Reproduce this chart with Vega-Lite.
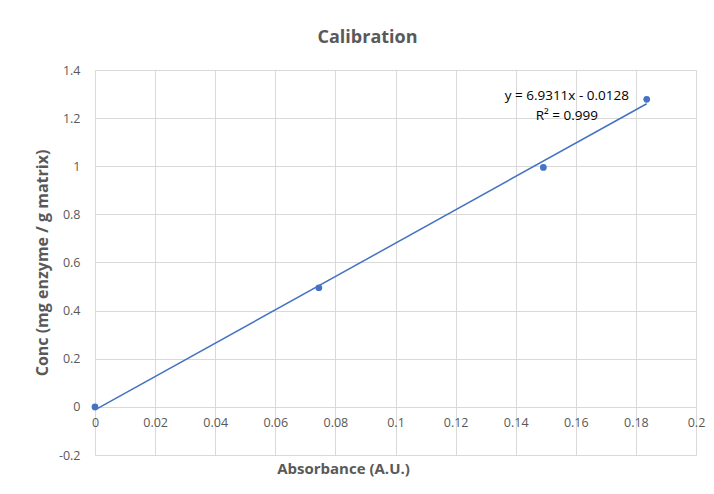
{
  "$schema": "https://vega.github.io/schema/vega-lite/v6.json",
  "width": 601,
  "height": 385,
  "autosize": {"type": "none"},
  "padding": {"left": 95, "top": 70, "right": 18, "bottom": 39},
  "background": "white",
  "config": {
    "font": "Open Sans",
    "view": {"stroke": null},
    "axis": {"labelColor": "#595959", "titleColor": "#595959", "labelFontSize": 12.5, "titleFontSize": 15, "titleFontWeight": "bold", "gridColor": "#d9d9d9", "gridWidth": 1, "ticks": false, "labelFont": "Open Sans", "titleFont": "Open Sans", "labelExpr": "'' + datum.value"}
  },
  "title": {"text": "Calibration", "fontSize": 18, "fontWeight": "bold", "color": "#595959", "font": "Open Sans", "anchor": "middle", "dx": -28, "offset": 17},
  "datasets": {
    "pts": [
      {"absorbance": 0, "conc": 0},
      {"absorbance": 0.0745, "conc": 0.495},
      {"absorbance": 0.1492, "conc": 0.995},
      {"absorbance": 0.1836, "conc": 1.278}
    ],
    "trend": [
      {"absorbance": 0, "conc": -0.0128},
      {"absorbance": 0.1836, "conc": 1.2598}
    ],
    "label": [
      {"absorbance": 0.157, "conc": 1.29, "text": "y = 6.9311x - 0.0128"},
      {"absorbance": 0.157, "conc": 1.207, "text": "R² = 0.999"}
    ]
  },
  "layer": [
    {
      "data": {"name": "trend"},
      "mark": {"type": "line", "color": "#4472c4", "strokeWidth": 1.5},
      "encoding": {
        "x": {"field": "absorbance", "type": "quantitative", "scale": {"domain": [0, 0.2], "nice": false, "zero": false},
          "axis": {"title": "Absorbance (A.U.)", "values": [0, 0.02, 0.04, 0.06, 0.08, 0.1, 0.12, 0.14, 0.16, 0.18, 0.2], "offset": -48, "labelPadding": 9, "domainColor": "#d9d9d9", "titleX": 248, "titleY": 61, "titleBaseline": "middle", "titleAnchor": "middle", "labelFlush": false}},
        "y": {"field": "conc", "type": "quantitative", "scale": {"domain": [-0.2, 1.4], "nice": false, "zero": false},
          "axis": {"title": "Conc (mg enzyme / g matrix)", "titleFontSize": 16, "values": [-0.2, 0, 0.2, 0.4, 0.6, 0.8, 1, 1.2, 1.4], "domain": false, "labelPadding": 15, "titlePadding": 8, "labelFlush": false}}
      }
    },
    {
      "data": {"name": "pts"},
      "mark": {"type": "circle", "color": "#4472c4", "opacity": 1, "size": 45},
      "encoding": {
        "x": {"field": "absorbance", "type": "quantitative"},
        "y": {"field": "conc", "type": "quantitative"}
      }
    },
    {
      "data": {"name": "label"},
      "mark": {"type": "text", "font": "Open Sans", "fontSize": 13.5, "color": "#000000", "align": "center", "baseline": "middle"},
      "encoding": {
        "x": {"field": "absorbance", "type": "quantitative"},
        "y": {"field": "conc", "type": "quantitative"},
        "text": {"field": "text"}
      }
    }
  ]
}
